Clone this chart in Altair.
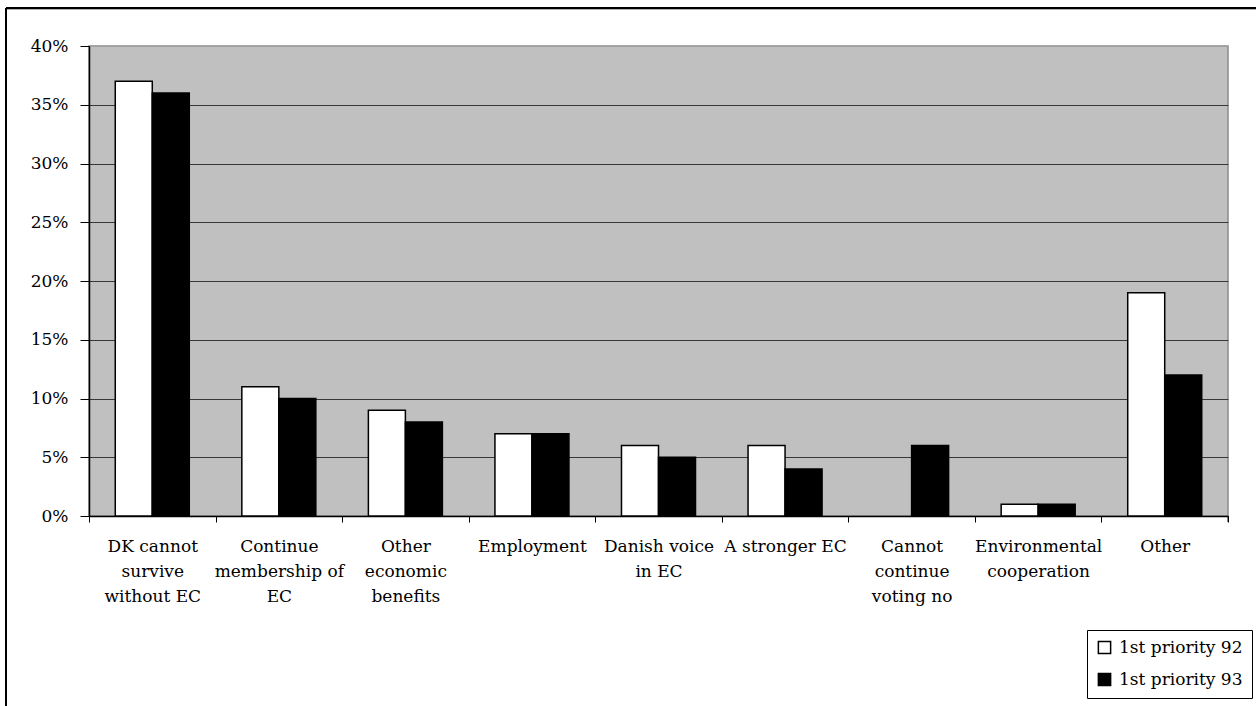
import altair as alt
import pandas as pd

# Reasons given (first priority), share of respondents in %
categories = [
    "DK cannot|survive|without EC",
    "Continue|membership of|EC",
    "Other|economic|benefits",
    "Employment",
    "Danish voice|in EC",
    "A stronger EC",
    "Cannot|continue|voting no",
    "Environmental|cooperation",
    "Other",
]
series = ["1st priority 92", "1st priority 93"]
values_92 = [37, 11, 9, 7, 6, 6, None, 1, 19]
values_93 = [36, 10, 8, 7, 5, 4, 6, 1, 12]
y_ticks = [0, 5, 10, 15, 20, 25, 30, 35, 40]

rows = []
for cat, v92, v93 in zip(categories, values_92, values_93):
    for s, v in zip(series, (v92, v93)):
        if v is not None:
            rows.append({"category": cat, "series": s, "value": v})
df = pd.DataFrame(rows)

W, H = 1139, 470
FONT = "DejaVu Serif"

bars = alt.Chart(df).mark_bar(stroke="black", strokeWidth=1.5).encode(
    x=alt.X(
        "category:N",
        sort=categories,
        scale=alt.Scale(paddingInner=0, paddingOuter=0),
        axis=alt.Axis(
            title=None,
            labelAngle=0,
            labelExpr="split(datum.label, '|')",
            labelLineHeight=25,
            labelFont=FONT,
            labelFontSize=17,
            labelColor="black",
            labelPadding=16,
            labelLimit=0,
            tickBand="extent",
            tickSize=6,
            tickColor="black",
            domainColor="black",
            domainWidth=1.5,
            grid=False,
        ),
    ),
    xOffset=alt.XOffset(
        "series:N", sort=series, scale=alt.Scale(paddingInner=0, paddingOuter=0.71)
    ),
    y=alt.Y(
        "value:Q",
        scale=alt.Scale(domain=[0, 40], nice=False),
        axis=alt.Axis(
            title=None,
            values=y_ticks,
            labelExpr="datum.value + '%'",
            labelFont=FONT,
            labelFontSize=17,
            labelColor="black",
            labelPadding=12,
            tickSize=9,
            tickColor="black",
            domainColor="black",
            domainWidth=1.5,
            grid=True,
            gridColor=alt.condition(
                "datum.value >= 40", alt.value("#a0a0a0"), alt.value("#383838")
            ),
            gridWidth=1,
        ),
    ),
    color=alt.Color(
        "series:N",
        sort=series,
        scale=alt.Scale(domain=series, range=["white", "black"]),
        legend=alt.Legend(
            title=None,
            orient="none",
            legendX=998,
            legendY=584,
            direction="vertical",
            symbolType="square",
            symbolSize=150,
            symbolStrokeColor="black",
            symbolStrokeWidth=1.5,
            labelFont=FONT,
            labelFontSize=17,
            labelColor="black",
            labelOffset=6,
            rowPadding=13,
            padding=9,
            strokeColor="black",
            fillColor="white",
        ),
    ),
)

# closing tick at the right end of the category axis
end_tick = alt.Chart(pd.DataFrame({"k": [0]})).mark_rule(
    color="black", strokeWidth=1
).encode(x=alt.value(W), y=alt.value(H), y2=alt.value(H + 6))

# outer chart frame (top and left edges)
frame_top = alt.Chart(pd.DataFrame({"k": [0]})).mark_rule(
    color="black", strokeWidth=2
).encode(x=alt.value(-83), x2=alt.value(1256 - 89), y=alt.value(-38))
frame_top_shadow = alt.Chart(pd.DataFrame({"k": [0]})).mark_rule(
    color="#b0b0b0", strokeWidth=1
).encode(x=alt.value(-82), x2=alt.value(1256 - 89), y=alt.value(-36.5))
frame_left = alt.Chart(pd.DataFrame({"k": [0]})).mark_rule(
    color="black", strokeWidth=2
).encode(x=alt.value(-83), y=alt.value(-38), y2=alt.value(706 - 46))

chart = (
    alt.layer(bars, end_tick, frame_top, frame_top_shadow, frame_left)
    .properties(
        width=W,
        height=H,
        autosize=alt.AutoSizeParams(type="none"),
        padding={"left": 89, "top": 46, "right": 28, "bottom": 190},
        background="white",
        view=alt.ViewBackground(fill="#C0C0C0", stroke="#8a8a8a", strokeWidth=1.5),
    )
    .configure(font=FONT)
)

chart.save("out.html", embed_options={"renderer": "svg", "actions": False})
